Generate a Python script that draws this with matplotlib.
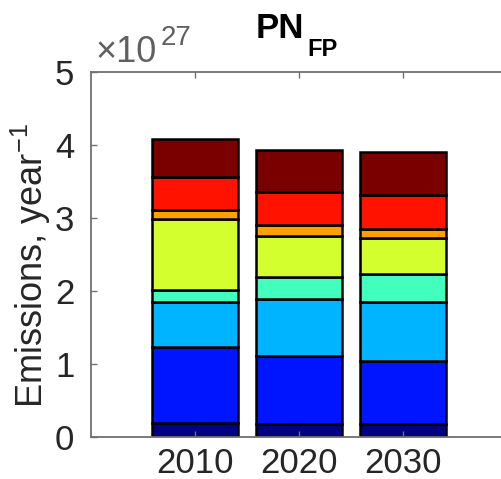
import numpy as np
import matplotlib
matplotlib.use('Agg')
import matplotlib.pyplot as plt

plt.rcParams['font.family'] = ['Liberation Sans', 'DejaVu Sans']
plt.rcParams['mathtext.fontset'] = 'custom'
plt.rcParams['mathtext.rm'] = 'Liberation Sans'
plt.rcParams['mathtext.it'] = 'Liberation Sans:italic'
plt.rcParams['mathtext.bf'] = 'Liberation Sans:bold'

# data, emissions in units of 1e27 per year (bottom segment first)
years = ['2010', '2020', '2030']
navy = [0.19, 0.18, 0.18]
blue = [1.04, 0.925, 0.865]
light_blue = [0.615, 0.78, 0.80]
aqua = [0.165, 0.305, 0.385]
yellow = [0.97, 0.56, 0.49]
orange = [0.125, 0.15, 0.135]
red = [0.455, 0.45, 0.455]
dark_red = [0.52, 0.58, 0.59]

segments = [navy, blue, light_blue, aqua, yellow, orange, red, dark_red]
colors = ['#000080', '#0015ff', '#00b4ff', '#43ffbe', '#d4ff2f',
          '#ffa000', '#ff1200', '#7a0000']

W, H = 501, 479
fig = plt.figure(figsize=(W/100, H/100), dpi=100)
ax = fig.add_axes([91/W, 42/H, 416/W, 365/H])

def px(x, y):
    # pixel position (from top left) -> figure fraction
    return x / W, 1 - y / H

x = np.arange(1, len(years) + 1)
bottom = np.zeros(len(years))
for vals, c in zip(segments, colors):
    ax.bar(x, vals, width=0.83, bottom=bottom, color=c,
           edgecolor='black', linewidth=1.8)
    bottom += np.array(vals)

grey = '#707070'
ax.set_xlim(0, 4)
ax.set_ylim(0, 5)
ax.set_xticks(x)
ax.set_xticklabels(years)
ax.set_yticks(range(6))
ax.tick_params(direction='in', length=4, width=1, colors=grey,
               labelcolor='#262626', labelsize=25, top=True)
ax.tick_params(axis='x', pad=7)
ax.tick_params(axis='y', pad=12)
for s in ax.spines.values():
    s.set_color(grey)
    s.set_linewidth(1.3)
ax.spines['right'].set_visible(False)

ax.set_ylabel('Emissions, year$^{-1}$', fontsize=26, color='#262626')
ax.yaxis.set_label_coords(-38/416, 0.47)

# exponent label
fig.text(*px(95, 62), '\u00d710', fontsize=26, color='#606060',
         ha='left', va='baseline')
fig.text(*px(161, 45), '27', fontsize=20, color='#606060',
         ha='left', va='baseline')

# title PN with subscript FP
fig.text(*px(256, 38), 'PN', fontsize=25, fontweight='bold',
         ha='left', va='baseline')
fig.text(*px(307, 56), 'FP', fontsize=17, fontweight='bold',
         ha='left', va='baseline')

fig.savefig('out.png', dpi=100)
